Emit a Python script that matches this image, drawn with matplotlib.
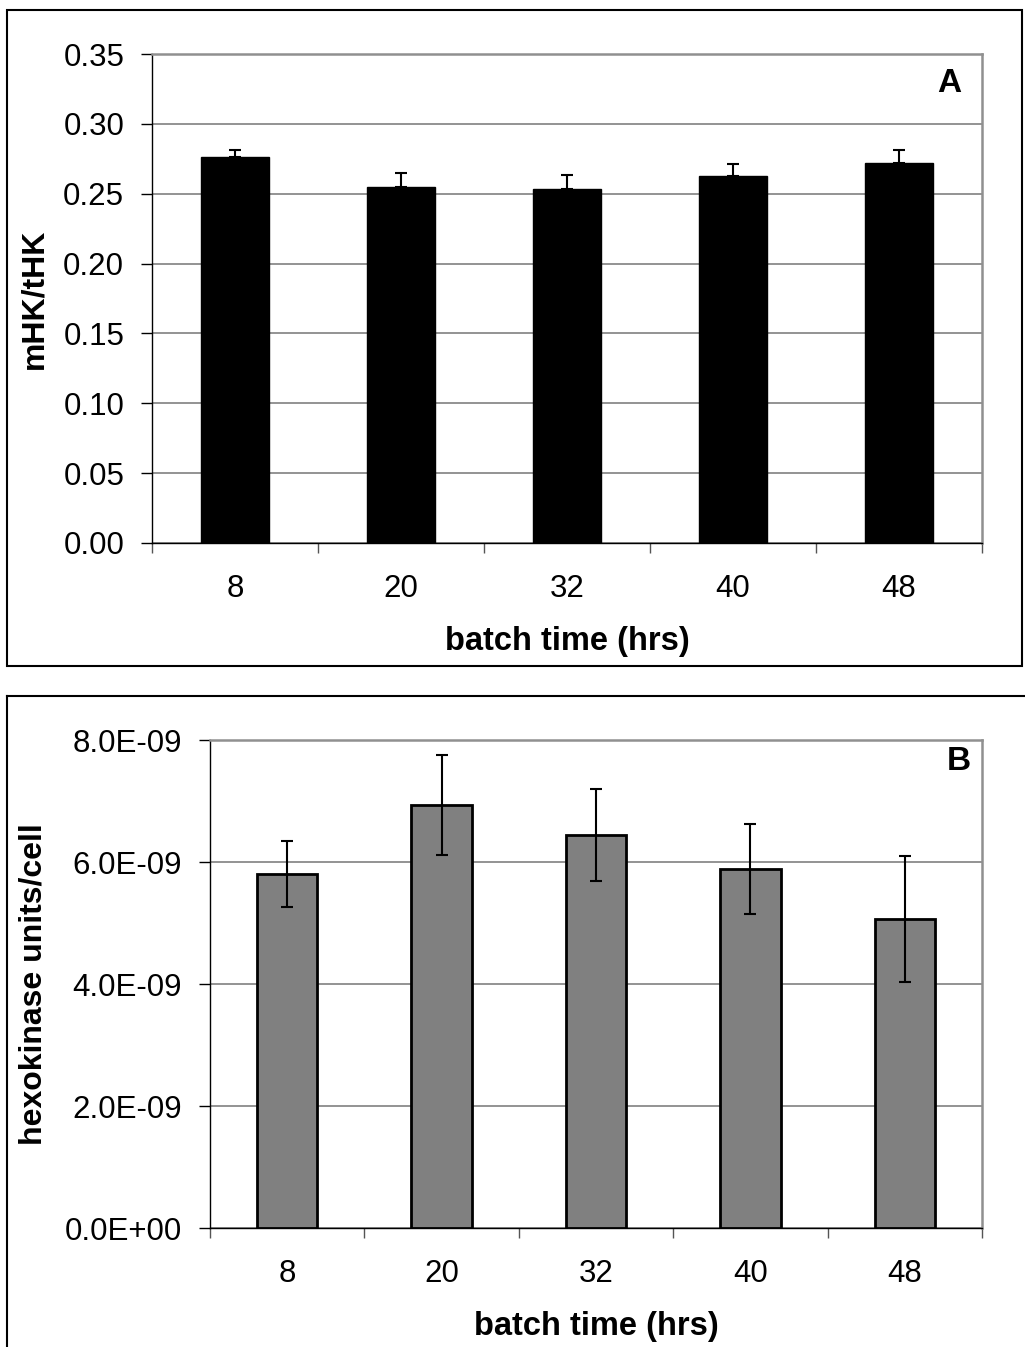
import numpy as np
import matplotlib
matplotlib.use('Agg')
import matplotlib.pyplot as plt
from matplotlib.ticker import FuncFormatter, FixedLocator
from matplotlib.patches import Rectangle
from matplotlib.lines import Line2D

plt.rcParams['font.family'] = ['Liberation Sans', 'DejaVu Sans']

# data
hours = ['8', '20', '32', '40', '48']
ratio = [0.276, 0.2547, 0.2536, 0.2626, 0.2721]
ratio_err = [0.005, 0.0103, 0.0097, 0.0085, 0.009]
hk_units = [5.80e-9, 6.94e-9, 6.44e-9, 5.89e-9, 5.07e-9]
hk_err = [0.54e-9, 0.82e-9, 0.75e-9, 0.735e-9, 1.03e-9]

W, H = 1025, 1347
fig = plt.figure(figsize=(W / 100, H / 100), dpi=100)


def px_axes(left, top, right, bottom):
    return fig.add_axes([left / W, 1 - bottom / H, (right - left) / W, (bottom - top) / H])


def style_axes(ax, ylabel):
    x = np.arange(len(hours))
    ax.set_xlim(-0.5, len(hours) - 0.5)
    ax.xaxis.set_major_locator(FixedLocator(np.arange(len(hours) + 1) - 0.5))
    ax.xaxis.set_minor_locator(FixedLocator(x))
    ax.set_xticklabels([], minor=False)
    ax.set_xticklabels(hours, minor=True)
    ax.tick_params(axis='x', which='major', direction='out', length=7, width=1, color='#555555')
    ax.tick_params(axis='x', which='minor', length=0, pad=22, labelsize=22.5)
    ax.tick_params(axis='y', direction='out', length=8, width=1, pad=12, labelsize=22.5)
    ax.grid(axis='y', color='#808080', linewidth=1.2)
    ax.set_axisbelow(True)
    for s in ('top', 'right'):
        ax.spines[s].set_color('#909090')
        ax.spines[s].set_linewidth(1.8)
    for s in ('left', 'bottom'):
        ax.spines[s].set_color('black')
        ax.spines[s].set_linewidth(1.0)
    ax.set_xlabel('batch time (hrs)', fontsize=23.5, fontweight='bold', labelpad=16)
    ax.set_ylabel(ylabel, fontsize=23, fontweight='bold')


# Panel A
axA = px_axes(152, 54, 982, 543)
xa = np.arange(len(hours))
axA.bar(xa, ratio, width=0.41, color='black', edgecolor='black', zorder=3)
axA.errorbar(xa, ratio, yerr=[np.zeros(len(ratio)), ratio_err], fmt='none',
             ecolor='black', elinewidth=1.5, capsize=4, capthick=1.5, zorder=4)
axA.set_ylim(0, 0.35)
axA.set_yticks(np.arange(0, 0.351, 0.05))
axA.yaxis.set_major_formatter(FuncFormatter(lambda v, p: f'{v:.2f}'))
style_axes(axA, 'mHK/tHK')
axA.yaxis.set_label_coords(-103 / 830, 0.5)
axA.text(0.975, 0.94, 'A', transform=axA.transAxes, ha='right', va='center',
         fontsize=24, fontweight='bold')

# Panel B
axB = px_axes(210, 740, 982, 1228)
xb = np.arange(len(hours))
axB.bar(xb, hk_units, width=0.39, color='#808080', edgecolor='black', linewidth=2, zorder=3)
axB.errorbar(xb, hk_units, yerr=hk_err, fmt='none', ecolor='black',
             elinewidth=1.5, capsize=4, capthick=1.5, zorder=4)
axB.set_ylim(0, 8e-9)
axB.set_yticks(np.arange(0, 8.01e-9, 2e-9))
axB.yaxis.set_major_formatter(FuncFormatter(lambda v, p: f'{v:.1E}'))
axB.yaxis.get_offset_text().set_visible(False)
style_axes(axB, 'hexokinase units/cell')
axB.yaxis.set_label_coords(-161 / 772, 0.5)
axB.text(0.985, 0.955, 'B', transform=axB.transAxes, ha='right', va='center',
         fontsize=24, fontweight='bold')

# outer panel frames
fig.patches.append(Rectangle((7 / W, 1 - 666 / H), (1022 - 7) / W, (666 - 10) / H,
                             transform=fig.transFigure, fill=False,
                             edgecolor='black', linewidth=1.5))
fig.lines.append(Line2D([7 / W, 1], [1 - 696 / H, 1 - 696 / H],
                        transform=fig.transFigure, color='black', linewidth=1.5))
fig.lines.append(Line2D([7 / W, 7 / W], [1 - 696 / H, 0],
                        transform=fig.transFigure, color='black', linewidth=1.5))

fig.savefig('out.png', dpi=100)
